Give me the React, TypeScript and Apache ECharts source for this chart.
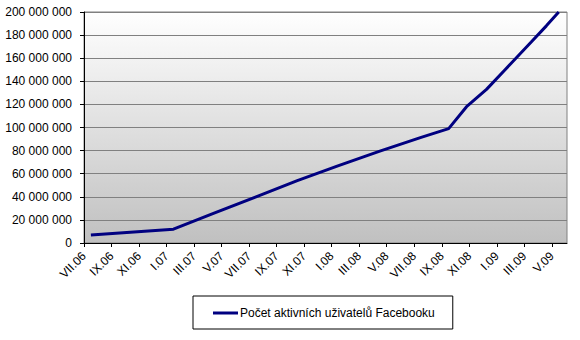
import React, { useEffect, useRef } from "react";
import * as echarts from "echarts";

// month offset from 1 July 2006 (VII.06 = 0)
const monthOffsets = [0.5, 6.5, 9.5, 12.5, 15.5, 18.5, 21.5, 24.5, 26.5, 27.8, 29.25, 30.6, 32.5, 33.6, 34.5];
const activeUsers = [
  6900000, 12000000, 26000000, 40000000, 54000000, 67000000, 79500000, 91500000, 99000000,
  118000000, 133000000, 150000000, 174000000, 188000000, 200000000,
];
const tickLabels = [
  "VII.06", "IX.06", "XI.06", "I.07", "III.07", "V.07", "VII.07", "IX.07", "XI.07",
  "I.08", "III.08", "V.08", "VII.08", "IX.08", "XI.08", "I.09", "III.09", "V.09",
];
const seriesName = "Počet aktivních uživatelů Facebooku";

const fmtNum = (v: number) => String(Math.round(v)).replace(/\B(?=(\d{3})+(?!\d))/g, " ");

export default function App() {
  const ref = useRef<HTMLDivElement>(null);
  useEffect(() => {
    if (!ref.current) return;
    const chart = echarts.init(ref.current, null, { renderer: "svg" });
    const font = "Arial, 'Liberation Sans', sans-serif";
    chart.setOption({
      animation: false,
      backgroundColor: "#ffffff",
      textStyle: { fontFamily: font },
      grid: {
        left: 84,
        right: 13,
        top: 12,
        bottom: 97,
        show: true,
        borderColor: "#808080",
        borderWidth: 1,
        backgroundColor: new echarts.graphic.LinearGradient(0, 0, 0, 1, [
          { offset: 0, color: "#ffffff" },
          { offset: 1, color: "#c0c0c0" },
        ]),
      },
      xAxis: {
        type: "value",
        min: 0,
        max: 35.1,
        interval: 2,
        axisLine: { show: true, lineStyle: { color: "#000000", width: 1 } },
        axisTick: { show: true, length: 4, lineStyle: { color: "#000000" } },
        splitLine: { show: false },
        axisLabel: {
          rotate: 45,
          margin: 11,
          fontSize: 12,
          color: "#000000",
          fontFamily: font,
          showMaxLabel: false,
          formatter: (v: number) => {
            const i = Math.round(v);
            if (Math.abs(v - i) > 1e-6 || i % 2 !== 0) return "";
            return tickLabels[i / 2] ?? "";
          },
        },
      },
      yAxis: {
        type: "value",
        min: 0,
        max: 200000000,
        interval: 20000000,
        axisLine: { show: true, lineStyle: { color: "#000000", width: 1 } },
        axisTick: { show: true, length: 4, lineStyle: { color: "#000000" } },
        splitLine: { show: true, lineStyle: { color: "#808080", width: 1 } },
        axisLabel: {
          margin: 12,
          fontSize: 12,
          color: "#000000",
          fontFamily: font,
          formatter: (v: number) => fmtNum(v),
        },
      },
      legend: {
        show: true,
        left: 193,
        top: 296,
        orient: "horizontal",
        padding: [11, 18, 10, 20],
        borderColor: "#000000",
        borderWidth: 1,
        backgroundColor: "#ffffff",
        itemWidth: 25,
        itemHeight: 3,
        icon: "rect",
        textStyle: { fontSize: 12, color: "#000000", fontFamily: font, padding: [0, 0, 0, -3] },
        data: [{ name: seriesName, itemStyle: { color: "#000080" } }],
      },
      series: [
        {
          name: seriesName,
          type: "line",
          data: monthOffsets.map((m, i) => [m, activeUsers[i]]),
          showSymbol: false,
          symbol: "none",
          lineStyle: { color: "#000080", width: 3 },
          itemStyle: { color: "#000080" },
        },
      ],
    });
    return () => chart.dispose();
  }, []);
  return (
    <div
      ref={ref}
      style={{ position: "fixed", left: 0, top: 0, width: 580, height: 340, background: "#ffffff" }}
    />
  );
}
